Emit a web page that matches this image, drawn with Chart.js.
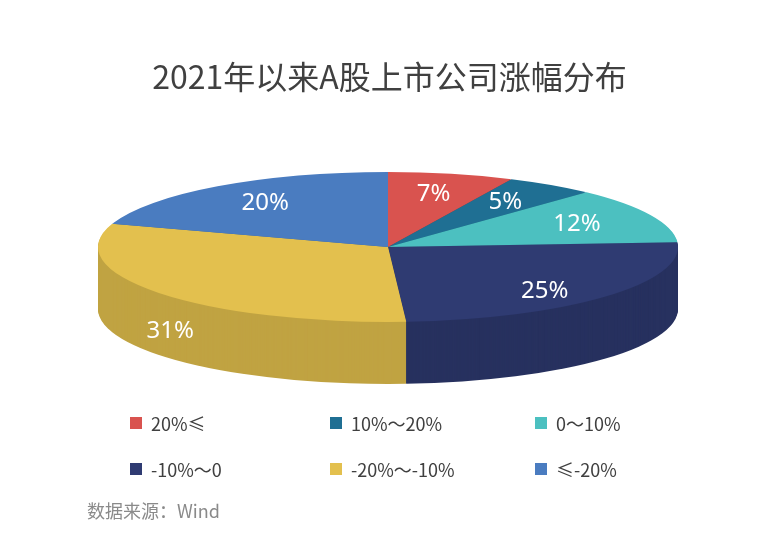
<!DOCTYPE html>
<html>
<head>
<meta charset="utf-8">
<script src="https://cdn.jsdelivr.net/npm/chart.js@4"></script>
<style>
  body { margin: 0; background: #fff; font-family: "Noto Sans CJK SC", "Noto Sans", sans-serif; }
  #wrap { position: relative; width: 779px; height: 558px; }
  #legend { position: absolute; left: 0; top: 410px; width: 779px; }
  .item { position: absolute; font-size: 18px; color: #404040; display: flex; align-items: center; }
  .box { width: 12px; height: 12px; margin-right: 9px; }
  #source { position: absolute; left: 87px; top: 497px; font-size: 18px; color: #8a8a8a; }
</style>
</head>
<body>
<div id="wrap">
  <canvas id="chart" width="779" height="558"></canvas>
  <div id="legend"></div>
  <div id="source">数据来源：Wind</div>
</div>
<script>
const categories = ['20%≤', '10%～20%', '0～10%', '-10%～0', '-20%～-10%', '≤-20%'];
const values = [7, 5, 12, 25, 31, 20];
const colors = ['#d9534f', '#1f6f93', '#4cc0c0', '#2f3b72', '#e3c04e', '#4a7cc0'];

// target ellipse on the page
const CX = 388, CY = 247, RX = 290, RY = 75, DEPTH = 62;

const legend = document.querySelector('#legend');
const legendPos = [[130, 0], [330, 0], [535, 0], [130, 46], [330, 46], [535, 46]];
categories.forEach((c, i) => {
    legend.innerHTML += `<div class="item" style="left:${legendPos[i][0]}px;top:${legendPos[i][1]}px">
        <span class="box" style="background:${colors[i]}"></span>${c}</div>`;
});

function shade(hex, f) {
    const n = parseInt(hex.slice(1), 16);
    const r = Math.round(((n >> 16) & 255) * f), g = Math.round(((n >> 8) & 255) * f), b = Math.round((n & 255) * f);
    return `rgb(${r},${g},${b})`;
}

function setTransform(ctx, arc) {
    const sx = RX / arc.outerRadius, sy = RY / arc.outerRadius;
    ctx.translate(CX, CY);
    ctx.scale(sx, sy);
    ctx.translate(-arc.x, -arc.y);
}

const pie3d = {
    id: 'pie3d',
    beforeDatasetsDraw(chart) {
        const ctx = chart.ctx;
        const arcs = chart.getDatasetMeta(0).data;
        const a0 = arcs[0];
        const sy = RY / a0.outerRadius;
        // side walls
        for (let d = DEPTH; d > 0; d -= 1) {
            arcs.forEach((arc, i) => {
                ctx.save();
                setTransform(ctx, a0);
                ctx.translate(0, d / sy);
                ctx.beginPath();
                ctx.moveTo(arc.x, arc.y);
                ctx.arc(arc.x, arc.y, arc.outerRadius, arc.startAngle, arc.endAngle);
                ctx.closePath();
                ctx.fillStyle = shade(colors[i], 0.9 - 0.25 * (1 - Math.abs(Math.cos((arc.startAngle + arc.endAngle) / 2))));
                ctx.fill();
                ctx.restore();
            });
        }
        ctx.save();
        setTransform(ctx, a0);
    },
    afterDatasetsDraw(chart) {
        const ctx = chart.ctx;
        ctx.restore();
        const arcs = chart.getDatasetMeta(0).data;
        const a0 = arcs[0];
        ctx.save();
        ctx.font = '24px "Noto Sans", sans-serif';
        ctx.fillStyle = '#fff';
        ctx.textAlign = 'center';
        ctx.textBaseline = 'middle';
        arcs.forEach((arc, i) => {
            const mid = (arc.startAngle + arc.endAngle) / 2;
            const f = i === 4 ? 0.95 : 0.72;
            const x = CX + Math.cos(mid) * RX * f;
            let y = CY + Math.sin(mid) * RY * f;
            if (i === 4) y += 40;
            if (i === 3) y += 8;
            ctx.fillText(values[i] + '%', x, y);
        });
        ctx.restore();
    }
};

new Chart(document.querySelector('#chart'), {
    type: 'pie',
    data: {
        labels: categories,
        datasets: [{ data: values, backgroundColor: colors, borderWidth: 0 }]
    },
    options: {
        responsive: false,
        animation: false,
        events: [],
        layout: { padding: { bottom: 150 } },
        plugins: {
            legend: { display: false },
            tooltip: { enabled: false },
            title: {
                display: true,
                text: '2021年以来A股上市公司涨幅分布',
                color: '#404040',
                font: { size: 32, family: '"Noto Sans CJK SC", sans-serif', weight: 'normal' },
                padding: { top: 58, bottom: 20 }
            }
        }
    },
    plugins: [pie3d]
});
</script>
</body>
</html>
